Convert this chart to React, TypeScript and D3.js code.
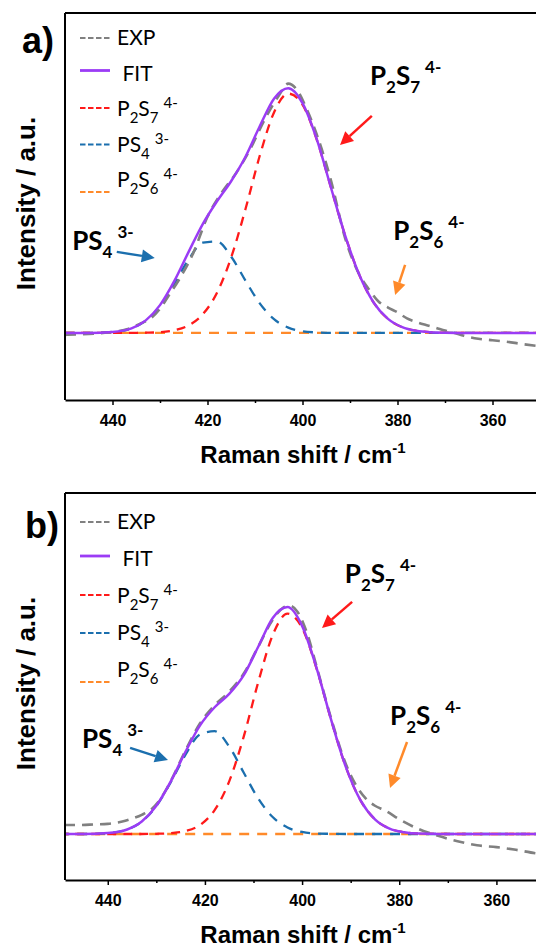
import React, { useEffect, useRef } from 'react'
import * as d3 from 'd3'

// wavenumber grid of the fitted curves (cm-1)
const FIT_SHIFT = [450, 445, 440, 436, 433, 430, 427, 424, 421, 418, 415, 412, 409, 406, 403, 400, 397, 394, 391, 388, 385, 382, 379, 376, 373, 370, 365, 360, 355, 350]

// panel a) - fit and components
const FIT_A = [0, 0, 0.004, 0.019, 0.052, 0.115, 0.214, 0.334, 0.450, 0.544, 0.628, 0.728, 0.854, 0.968, 1.011, 0.950, 0.801, 0.600, 0.401, 0.238, 0.125, 0.058, 0.024, 0.009, 0.003, 0.001, 0, 0, 0, 0]
const P2S7_A = [0, 0, 0, 0, 0.001, 0.003, 0.011, 0.031, 0.077, 0.166, 0.313, 0.512, 0.732, 0.911, 0.989, 0.943, 0.799, 0.600, 0.401, 0.238, 0.125, 0.058, 0.024, 0.009, 0.003, 0.001, 0, 0, 0, 0]
const PS4_A = [0, 0, 0.004, 0.019, 0.051, 0.112, 0.203, 0.303, 0.373, 0.378, 0.315, 0.216, 0.122, 0.057, 0.022, 0.007, 0.002, 0, 0, 0, 0, 0, 0, 0, 0, 0, 0, 0, 0, 0]
const P2S6_A = [0, 0, 0, 0, 0, 0, 0, 0, 0, 0, 0, 0, 0, 0, 0, 0, 0, 0, 0, 0, 0, 0, 0, 0, 0, 0, 0, 0, 0, 0]

// panel a) - measured spectrum
const EXP_SHIFT_A = [450, 445, 440, 437, 434, 432, 430, 428, 426, 423, 420, 417, 414, 411, 408, 405, 403, 401, 399, 397, 394, 391, 388, 386, 384, 382, 380, 378, 376, 374, 372, 370, 368, 366, 363, 360, 357, 354, 350]
const EXP_A = [-0.008, -0.004, 0.004, 0.015, 0.04, 0.06, 0.1, 0.16, 0.22, 0.33, 0.48, 0.58, 0.66, 0.76, 0.88, 0.98, 1.03, 1.0, 0.92, 0.82, 0.63, 0.39, 0.24, 0.18, 0.13, 0.105, 0.085, 0.06, 0.045, 0.033, 0.022, 0.01, 0, -0.012, -0.024, -0.03, -0.036, -0.045, -0.055]

// panel b) - fit and components
const FIT_B = [0, 0, 0.004, 0.020, 0.055, 0.125, 0.234, 0.364, 0.481, 0.561, 0.620, 0.703, 0.830, 0.957, 1.004, 0.921, 0.733, 0.504, 0.297, 0.150, 0.065, 0.024, 0.008, 0.002, 0.001, 0, 0, 0, 0, 0]
const P2S7_B = [0, 0, 0, 0, 0, 0.001, 0.004, 0.013, 0.040, 0.106, 0.233, 0.432, 0.674, 0.883, 0.975, 0.912, 0.731, 0.503, 0.297, 0.150, 0.065, 0.024, 0.008, 0.002, 0.001, 0, 0, 0, 0, 0]
const PS4_B = [0, 0, 0.004, 0.020, 0.055, 0.124, 0.230, 0.351, 0.441, 0.455, 0.387, 0.271, 0.156, 0.074, 0.029, 0.009, 0.002, 0.001, 0, 0, 0, 0, 0, 0, 0, 0, 0, 0, 0, 0]
const P2S6_B = [0, 0, 0, 0, 0, 0, 0, 0, 0, 0, 0, 0, 0, 0, 0, 0, 0, 0, 0, 0, 0, 0, 0, 0, 0, 0, 0, 0, 0, 0]

// panel b) - measured spectrum
const EXP_SHIFT_B = [449, 446, 443, 440, 437, 435, 433, 431, 429, 427, 424, 421, 418, 415, 412, 409, 406, 404, 402.5, 401, 399, 397, 394, 391, 389, 387, 385, 383, 380, 376, 372, 368, 364, 360, 356, 352, 350]
const EXP_B = [0.04, 0.04, 0.042, 0.045, 0.055, 0.068, 0.085, 0.11, 0.16, 0.235, 0.37, 0.49, 0.57, 0.63, 0.71, 0.83, 0.95, 1.0, 1.01, 0.985, 0.89, 0.74, 0.51, 0.31, 0.22, 0.16, 0.125, 0.105, 0.065, 0.022, -0.008, -0.032, -0.05, -0.058, -0.07, -0.085, -0.09]

const X_TICKS = [440, 420, 400, 380, 360]
const X_MINOR = [430, 410, 390, 370]

// chemical formulas: level -1 = subscript, 1 = superscript
const IONS: Record<string, [string, number][]> = {
  P2S7: [['P', 0], ['2', -1], ['S', 0], ['7', -1], ['4-', 1]],
  PS4: [['P', 0], ['S', 0], ['4', -1], ['3-', 1]],
  P2S6: [['P', 0], ['2', -1], ['S', 0], ['6', -1], ['4-', 1]]
}

const GRAY = '#808080'
const PURPLE = '#9b3cf5'
const RED = '#ff1a1a'
const BLUE = '#1b6fae'
const ORANGE = '#ff8a2a'

// legend entries: key, colour, dashed
const LEGEND = [
  { key: 'EXP', color: GRAY, dashed: true },
  { key: ' FIT', color: PURPLE, dashed: false },
  { key: 'P2S7', color: RED, dashed: true },
  { key: 'PS4', color: BLUE, dashed: true },
  { key: 'P2S6', color: ORANGE, dashed: true }
]

// peak labels and arrows, in data units (shift, intensity)
const ANN_A = [
  { ion: 'P2S7', at: [385.8, 1.025], from: [385.4, 0.897], to: [392.1, 0.777], color: RED },
  { ion: 'PS4', at: [448.5, 0.343], from: [439.1, 0.335], to: [431.1, 0.31], color: BLUE },
  { ion: 'P2S6', at: [380.9, 0.384], from: [378.4, 0.281], to: [380.5, 0.157], color: ORANGE }
]
const ANN_B = [
  { ion: 'P2S7', at: [391.2, 1.111], from: [389.7, 1.027], to: [395.9, 0.912], color: RED },
  { ion: 'PS4', at: [445.3, 0.381], from: [435.4, 0.381], to: [427.6, 0.327], color: BLUE },
  { ion: 'P2S6', at: [381.9, 0.482], from: [378.4, 0.407], to: [381.9, 0.204], color: ORANGE }
]

const PANELS = [
  {
    tag: 'a)', tagX: 22, tagY: 53,
    top: 13, bottom: 400, left: 65, right: 540,
    xDomain: [450, 350], yDomain: [-0.277, 1.322],
    expShift: EXP_SHIFT_A, exp: EXP_A, fit: FIT_A, comps: [P2S6_A, PS4_A, P2S7_A],
    legendY: 45, legendStep: 35.5, ann: ANN_A
  },
  {
    tag: 'b)', tagX: 25, tagY: 538,
    top: 493, bottom: 880, left: 65, right: 545,
    xDomain: [448.8, 350], yDomain: [-0.2035, 1.509],
    expShift: EXP_SHIFT_B, exp: EXP_B, fit: FIT_B, comps: [P2S6_B, PS4_B, P2S7_B],
    legendY: 529, legendStep: 37, ann: ANN_B
  }
]

const COMP_STYLE = [
  { color: ORANGE, dash: '10,8' },
  { color: BLUE, dash: '10,8' },
  { color: RED, dash: '9,7' }
]
const LEGEND_LINE_OFFSET = [-7, -10, -8, -7, 5]

const AXIS_FONT = '"Liberation Sans", Arial, sans-serif'
const LABEL_FONT = 'Lato, "Open Sans", sans-serif'

// write a formula as tspans, subscripts dropped and superscripts raised
function formula (sel, parts, o) {
  const t = sel.append('text')
    .attr('x', o.x).attr('y', o.y)
    .style('font-family', LABEL_FONT)
    .style('font-weight', o.weight)
    .attr('fill', '#000')
  let cur = 0
  parts.forEach(([s, level]) => {
    const target = level === -1 ? o.drop : level === 1 ? -o.rise : 0
    const ts = t.append('tspan')
      .attr('dy', target - cur)
      .style('font-size', (level === 0 ? o.size : o.small) + 'px')
      .text(s)
    if (level === 1) ts.attr('dx', o.gap)
    cur = target
  })
  return t
}

function drawPanel (svg, p, i) {
  const x = d3.scaleLinear().domain(p.xDomain).range([p.left, p.right])
  const y = d3.scaleLinear().domain(p.yDomain).range([p.bottom, p.top])
  const g = svg.append('g')

  const clipId = 'plot-clip-' + i
  g.append('clipPath').attr('id', clipId).append('rect')
    .attr('x', p.left).attr('y', p.top)
    .attr('width', p.right - p.left).attr('height', p.bottom - p.top)

  const line = d3.line<[number, number]>()
    .x(d => x(d[0]))
    .y(d => y(d[1]))
    .curve(d3.curveMonotoneX)

  const plot = g.append('g').attr('clip-path', `url(#${clipId})`)

  // fitted components (dashed)
  p.comps.forEach((vals, k) => {
    plot.append('path')
      .attr('d', line(FIT_SHIFT.map((s, j) => [s, vals[j]])))
      .attr('fill', 'none')
      .attr('stroke', COMP_STYLE[k].color)
      .attr('stroke-width', 2.3)
      .attr('stroke-dasharray', COMP_STYLE[k].dash)
  })

  // measured spectrum
  plot.append('path')
    .attr('d', line(p.expShift.map((s, j) => [s, p.exp[j]])))
    .attr('fill', 'none')
    .attr('stroke', GRAY)
    .attr('stroke-width', 2.6)
    .attr('stroke-dasharray', '11,7')

  // cumulative fit
  plot.append('path')
    .attr('d', line(FIT_SHIFT.map((s, j) => [s, p.fit[j]])))
    .attr('fill', 'none')
    .attr('stroke', PURPLE)
    .attr('stroke-width', 2.5)

  // frame: left axis and top border
  g.append('line')
    .attr('x1', p.left).attr('x2', p.left).attr('y1', p.top).attr('y2', p.bottom)
    .attr('stroke', '#000').attr('stroke-width', 2)
  g.append('line')
    .attr('x1', p.left).attr('x2', p.right).attr('y1', p.top).attr('y2', p.top)
    .attr('stroke', '#000').attr('stroke-width', 2)

  // x axis
  const xAxis = d3.axisBottom(x).tickValues(X_TICKS).tickSize(5).tickSizeOuter(0).tickPadding(9.5).tickFormat(d3.format('d'))
  const ax = g.append('g').attr('transform', `translate(0,${p.bottom})`).call(xAxis)
  ax.select('.domain').attr('stroke-width', 2)
  ax.selectAll('.tick line').attr('stroke-width', 1.5)
  ax.selectAll('.tick text')
    .style('font-family', AXIS_FONT)
    .style('font-size', '16px')
    .style('font-weight', 'bold')

  const minor = d3.axisBottom(x).tickValues(X_MINOR).tickSize(3).tickSizeOuter(0).tickFormat(() => '')
  const mx = g.append('g').attr('transform', `translate(0,${p.bottom})`).call(minor)
  mx.select('.domain').remove()
  mx.selectAll('.tick line').attr('stroke-width', 1.5)

  // axis titles
  const title = g.append('text')
    .attr('x', 303).attr('y', p.bottom + 63)
    .attr('text-anchor', 'middle')
    .style('font-family', AXIS_FONT)
    .style('font-weight', 'bold')
    .style('font-size', '24px')
  title.append('tspan').text('Raman shift / cm')
  title.append('tspan').attr('dy', -10).style('font-size', '15px').text('-1')

  g.append('text')
    .attr('transform', `translate(35,${(p.top + p.bottom) / 2 - 3}) rotate(-90)`)
    .attr('text-anchor', 'middle')
    .style('font-family', AXIS_FONT)
    .style('font-weight', 'bold')
    .style('font-size', '26px')
    .text('Intensity / a.u.')

  // panel tag
  g.append('text')
    .attr('x', p.tagX).attr('y', p.tagY)
    .style('font-family', AXIS_FONT)
    .style('font-weight', 'bold')
    .style('font-size', '36px')
    .text(p.tag)

  // legend
  LEGEND.forEach((e, k) => {
    const by = p.legendY + k * p.legendStep
    g.append('line')
      .attr('x1', 80).attr('x2', 110)
      .attr('y1', by + LEGEND_LINE_OFFSET[k]).attr('y2', by + LEGEND_LINE_OFFSET[k])
      .attr('stroke', e.color)
      .attr('stroke-width', e.dashed ? 2.2 : 2.8)
      .attr('stroke-dasharray', e.dashed ? '5.5,2.5' : null)
    const parts = IONS[e.key] || [[e.key, 0]]
    formula(g, parts, { x: 117, y: by, size: 21, small: 15, drop: 7, rise: 8, gap: 5, weight: 'normal' })
      .style('white-space', 'pre')
  })

  // peak labels and arrows
  p.ann.forEach(a => {
    formula(g, IONS[a.ion], { x: x(a.at[0]), y: y(a.at[1]), size: 26, small: 17, drop: 8, rise: 12, gap: 5, weight: 'bold' })
    const x1 = x(a.from[0]); const y1 = y(a.from[1])
    const x2 = x(a.to[0]); const y2 = y(a.to[1])
    const ang = Math.atan2(y2 - y1, x2 - x1)
    const head = 13
    const half = 6.5
    const bx = x2 - head * Math.cos(ang)
    const by = y2 - head * Math.sin(ang)
    g.append('line')
      .attr('x1', x1).attr('y1', y1).attr('x2', bx).attr('y2', by)
      .attr('stroke', a.color).attr('stroke-width', 2.5)
    g.append('polygon')
      .attr('points', [
        [x2, y2],
        [bx + half * Math.sin(ang), by - half * Math.cos(ang)],
        [bx - half * Math.sin(ang), by + half * Math.cos(ang)]
      ].map(d => d.join(',')).join(' '))
      .attr('fill', a.color)
  })
}

export default function App () {
  const ref = useRef<SVGSVGElement>(null)

  useEffect(() => {
    const svg = d3.select(ref.current)
    svg.selectAll('*').remove()
    PANELS.forEach((p, i) => drawPanel(svg, p, i))
  }, [])

  return (
    <svg
      ref={ref}
      width={536}
      height={949}
      style={{ position: 'absolute', left: 0, top: 0, background: '#fff' }}
    />
  )
}
